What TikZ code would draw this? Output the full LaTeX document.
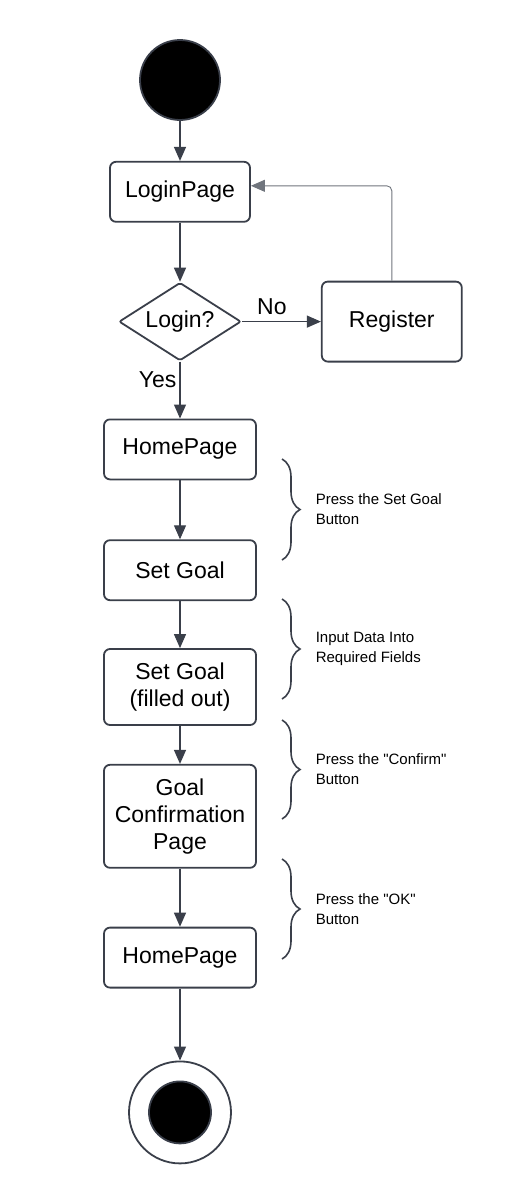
\documentclass[tikz,border=0pt]{standalone}
\usepackage{fontspec}
\setmainfont{Liberation Sans}
\usepackage{tikz}
\usetikzlibrary{shapes.geometric,arrows.meta,positioning,decorations.pathreplacing}
\definecolor{edge}{HTML}{3A3F4A}
\definecolor{loopgray}{HTML}{70757D}

\begin{document}
\begin{tikzpicture}[
    x=1pt, y=1pt,
    node distance=30pt,
    box/.style={rectangle, rounded corners=3pt, draw=edge, line width=0.9pt, minimum width=76pt, minimum height=30pt, align=center, font=\fontsize{11.5}{13.5}\selectfont},
    decision/.style={diamond, aspect=1.6, draw=edge, line width=0.9pt, rounded corners=1pt, minimum width=61pt, minimum height=39pt, inner sep=0pt, font=\fontsize{11.5}{13.5}\selectfont},
    arrow/.style={-{Triangle[length=7pt,width=6pt]}, draw=edge, line width=0.6pt},
    back/.style={-{Triangle[length=7pt,width=6pt]}, draw=loopgray, line width=0.45pt, rounded corners=2.5pt},
    brace/.style={decorate, decoration={brace, amplitude=9pt}, draw=edge, line width=0.8pt},
    note/.style={font=\fontsize{7.5}{10}\selectfont, align=left, anchor=west, inner sep=0pt, xshift=16.5pt}
]
\useasboundingbox (0,0) rectangle (260,-600);

\node[circle, fill=black, draw=edge, line width=0.9pt, minimum size=40pt] (start) at (90,-40) {};
\node[box, minimum width=70pt, below=20pt of start] (login) {LoginPage};
\node[decision, below=29.5pt of login] (check) {Login?};
\node[box, minimum width=70pt, minimum height=40pt, right=39.5pt of check] (register) {Register};
\node[box, below=28.5pt of check] (home) {HomePage};
\node[box, below=29.5pt of home] (setgoal) {Set Goal};
\node[box, minimum height=38pt, below=23.5pt of setgoal] (filled) {Set Goal\\(filled out)};
\node[box, minimum height=51.5pt, below=19pt of filled] (confirm) {Goal\\Confirmation\\Page};
\node[box, below=29pt of confirm] (homeback) {HomePage};
\node[circle, draw=edge, line width=0.9pt, minimum size=51pt, below=36pt of homeback] (finish) {};
\node[circle, fill=black, draw=edge, line width=0.9pt, minimum size=31pt] (finishdot) at (finish.center) {};

\draw[arrow] (start) -- (login);
\draw[arrow] (login) -- (check);
\draw[arrow] (check) -- node[pos=0.38, above, font=\fontsize{11.5}{13.5}\selectfont] {No} (register);
\draw[back] (register.north) |- ([yshift=3pt]login.east);
\draw[arrow] (check) -- node[pos=0.32, left, inner sep=1.5pt, font=\fontsize{11.5}{13.5}\selectfont] {Yes} (home);
\draw[arrow] (home) -- (setgoal);
\draw[arrow] (setgoal) -- (filled);
\draw[arrow] (filled) -- (confirm);
\draw[arrow] (confirm) -- (homeback);
\draw[arrow] (homeback) -- (finish);

% step annotations
\draw[brace] (141,-229.5) -- (141,-280) node[midway, note] (step1) {Press the Set Goal\\Button};
\draw[brace] (141,-299.5) -- (141,-349.5) node[midway, note] (step2) {Input Data Into\\Required Fields};
\draw[brace] (141,-360) -- (141,-409.5) node[midway, note] (step3) {Press the \textquotedbl Confirm\textquotedbl\\Button};
\draw[brace] (141,-429.5) -- (141,-479.5) node[midway, note] (step4) {Press the \textquotedbl OK\textquotedbl\\Button};
\end{tikzpicture}
\end{document}
